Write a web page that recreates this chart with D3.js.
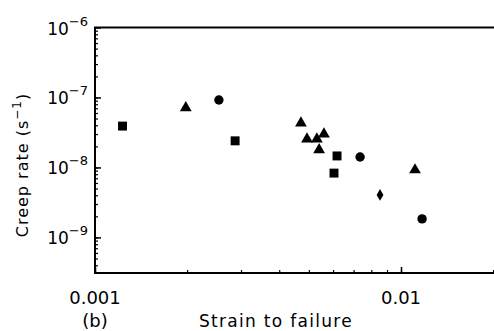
<!DOCTYPE html>
<html>
<head>
<meta charset="utf-8">
<script src="https://cdn.jsdelivr.net/npm/d3@7"></script>
<style>
  html, body { margin: 0; padding: 0; background: #fff; }
  svg { display: block; }
  text { font-family: "DejaVu Sans", sans-serif; fill: #000; }
</style>
</head>
<body>
<svg id="chart" width="494" height="331"></svg>
<script>
// ---- data ----
const squareX = [0.00123, 0.00287, 0.00618, 0.00604];
const squareY = [3.9e-8, 2.4e-8, 1.46e-8, 8.3e-9];

const triangleX = [0.00198, 0.00471, 0.00493, 0.00531, 0.00560, 0.00540, 0.01111];
const triangleY = [7.1e-8, 4.3e-8, 2.55e-8, 2.55e-8, 3.0e-8, 1.78e-8, 9.2e-9];

const circleX = [0.00254, 0.00735, 0.01172];
const circleY = [9.2e-8, 1.41e-8, 1.84e-9];

const diamondX = [0.00854];
const diamondY = [4.05e-9];

const xTickValues = [0.001, 0.01];
const xTickLabels = ["0.001", "0.01"];
const yTickValues = [1e-6, 1e-7, 1e-8, 1e-9];
const yTickExponents = ["−6", "−7", "−8", "−9"];

const xDomain = [0.001, 0.02];
const yDomain = [3.1e-10, 1e-6];

// ---- layout ----
const pLeft = 95, pTop = 27.5, pBottom = 273;
const decadeX = 306;
const pRight = pLeft + decadeX * Math.log10(xDomain[1] / xDomain[0]);

const svg = d3.select("#chart");
const x = d3.scaleLog().domain(xDomain).range([pLeft, pRight]);
const y = d3.scaleLog().domain(yDomain).range([pBottom, pTop]);

// minor ticks
const xMinor = [];
for (let d = 0.001; d < 0.02; d *= 10) for (let k = 1; k < 10; k++) { const v = d * k; if (v <= xDomain[1] + 1e-12) xMinor.push(v); }
const yMinor = [];
for (let d = 1e-10; d < 1e-6; d *= 10) for (let k = 1; k < 10; k++) { const v = d * k; if (v >= yDomain[0] && v <= yDomain[1]) yMinor.push(v); }

// Left axis (ticks inward)
const gy = svg.append("g").attr("transform", `translate(${pLeft},0)`);
gy.call(d3.axisRight(y).tickValues(yMinor).tickSize(3).tickFormat(""));
gy.select(".domain").remove();
gy.selectAll(".tick line").attr("stroke", "#000").attr("stroke-width", 1.2);
const gyMaj = svg.append("g").attr("transform", `translate(${pLeft},0)`);
gyMaj.call(d3.axisRight(y).tickValues(yTickValues).tickSize(6).tickFormat(""));
gyMaj.select(".domain").remove();
gyMaj.selectAll(".tick line").attr("stroke", "#000").attr("stroke-width", 1.5);

// Bottom axis (ticks inward)
const gx = svg.append("g").attr("transform", `translate(0,${pBottom})`);
gx.call(d3.axisTop(x).tickValues(xMinor).tickSize(3).tickFormat(""));
gx.select(".domain").remove();
gx.selectAll(".tick line").attr("stroke", "#000").attr("stroke-width", 1.2);
const gxMaj = svg.append("g").attr("transform", `translate(0,${pBottom})`);
gxMaj.call(d3.axisTop(x).tickValues(xTickValues).tickSize(6).tickFormat(""));
gxMaj.select(".domain").remove();
gxMaj.selectAll(".tick line").attr("stroke", "#000").attr("stroke-width", 1.5);

// frame lines
svg.append("line").attr("x1", pLeft).attr("x2", pLeft).attr("y1", pTop).attr("y2", pBottom)
  .attr("stroke", "#000").attr("stroke-width", 2);
svg.append("line").attr("x1", pLeft - 1).attr("x2", 494).attr("y1", pBottom).attr("y2", pBottom)
  .attr("stroke", "#000").attr("stroke-width", 2);
svg.append("line").attr("x1", pLeft - 1).attr("x2", 494).attr("y1", pTop).attr("y2", pTop)
  .attr("stroke", "#000").attr("stroke-width", 2);

// y tick labels
yTickValues.forEach((v, i) => {
  const t = svg.append("text").attr("x", 88).attr("y", y(v) + 7)
    .attr("text-anchor", "end").style("font-size", "17px");
  t.append("tspan").text("10");
  t.append("tspan").attr("dy", -9).style("font-size", "13px").text(yTickExponents[i]);
});

// x tick labels
xTickValues.forEach((v, i) => {
  svg.append("text").attr("x", x(v)).attr("y", 304)
    .attr("text-anchor", "middle").style("font-size", "18px").text(xTickLabels[i]);
});

// axis titles
svg.append("text").attr("x", 95).attr("y", 327).attr("text-anchor", "middle")
  .style("font-size", "18px").text("(b)");
svg.append("text").attr("x", 276).attr("y", 327).attr("text-anchor", "middle")
  .style("font-size", "17px").style("letter-spacing", "1.3px").text("Strain to failure");
const yt = svg.append("text").attr("transform", "translate(28,165) rotate(-90)")
  .attr("text-anchor", "middle").style("font-size", "16px").style("letter-spacing", "1px");
yt.append("tspan").text("Creep rate (s");
yt.append("tspan").attr("dy", -7).style("font-size", "12px").text("−1");
yt.append("tspan").attr("dy", 7).text(")");

// markers
const pts = (xs, ys) => xs.map((v, i) => ({ x: v, y: ys[i] }));
const g = svg.append("g");
g.selectAll(".sq").data(pts(squareX, squareY)).join("path")
  .attr("d", d3.symbol(d3.symbolSquare, 80))
  .attr("transform", d => `translate(${x(d.x)},${y(d.y)})`).attr("fill", "#000");
g.selectAll(".tr").data(pts(triangleX, triangleY)).join("path")
  .attr("d", d3.symbol(d3.symbolTriangle, 60))
  .attr("transform", d => `translate(${x(d.x)},${y(d.y)})`).attr("fill", "#000");
g.selectAll(".ci").data(pts(circleX, circleY)).join("path")
  .attr("d", d3.symbol(d3.symbolCircle, 70))
  .attr("transform", d => `translate(${x(d.x)},${y(d.y)})`).attr("fill", "#000");
g.selectAll(".di").data(pts(diamondX, diamondY)).join("path")
  .attr("d", d3.symbol(d3.symbolDiamond, 40))
  .attr("transform", d => `translate(${x(d.x)},${y(d.y)})`).attr("fill", "#000");
</script>
</body>
</html>
